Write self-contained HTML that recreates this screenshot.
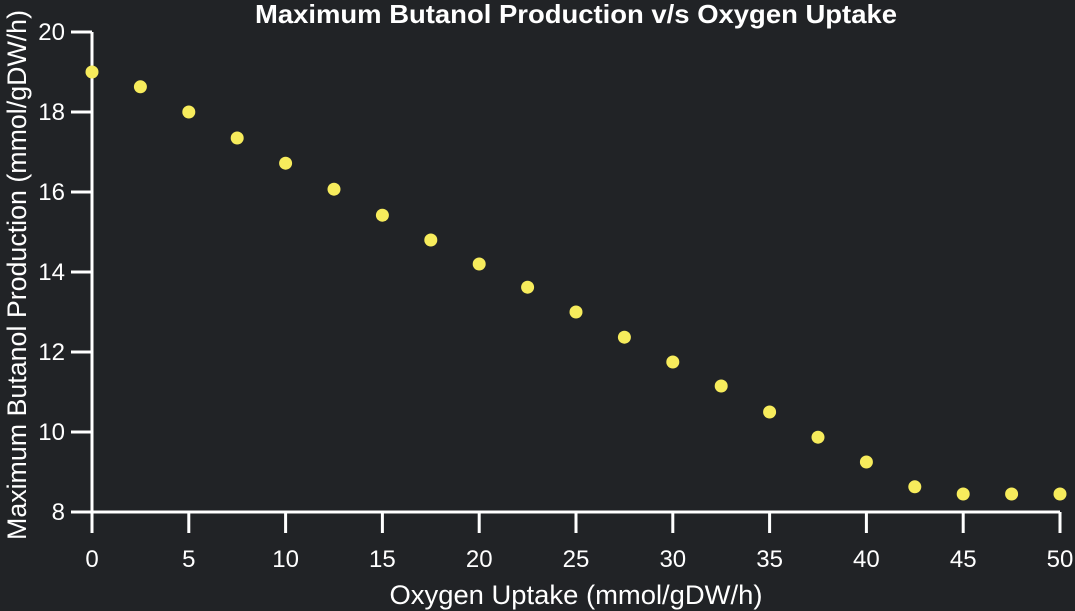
<!DOCTYPE html>
<html><head><meta charset="utf-8"><style>
body{margin:0;background:#212326;}
svg{display:block;font-family:"Liberation Sans",sans-serif;}
</style></head><body>
<svg width="1075" height="611">
<rect width="1075" height="611" fill="#212326"/>
<text x="576" y="23" fill="#fff" font-size="26" font-weight="bold" text-anchor="middle" textLength="642" lengthAdjust="spacingAndGlyphs">Maximum Butanol Production v/s Oxygen Uptake</text>
<text x="576" y="604" fill="#fff" font-size="27" text-anchor="middle" textLength="373" lengthAdjust="spacingAndGlyphs">Oxygen Uptake (mmol/gDW/h)</text>
<text transform="translate(26,275) rotate(-90)" fill="#fff" font-size="27" text-anchor="middle" textLength="530" lengthAdjust="spacingAndGlyphs">Maximum Butanol Production (mmol/gDW/h)</text>
<g id="axes"></g>
<g id="points"></g>
</svg>
<script>
const xVals=[0,2.5,5,7.5,10,12.5,15,17.5,20,22.5,25,27.5,30,32.5,35,37.5,40,42.5,45,47.5,50];
const yVals=[19.0,18.63,18.0,17.35,16.72,16.07,15.42,14.8,14.2,13.62,13.0,12.37,11.75,11.15,10.5,9.87,9.25,8.63,8.45,8.45,8.45];
const xTicks=[0,5,10,15,20,25,30,35,40,45,50];
const yTicks=[8,10,12,14,16,18,20];
const X=v=>92+v*(1060-92)/50;
const Y=v=>512-(v-8)*40;
const NS="http://www.w3.org/2000/svg";
const ax=document.getElementById('axes'),pts=document.getElementById('points');
function mk(tag,attrs,parent){const e=document.createElementNS(NS,tag);for(const k in attrs)e.setAttribute(k,attrs[k]);parent.appendChild(e);return e;}
let l=mk('line',{x1:92,y1:Y(20),x2:92,y2:533,stroke:'#fff','stroke-width':3},ax);


l=mk('line',{x1:71,y1:512,x2:1060,y2:512,stroke:'#fff','stroke-width':3},ax);


xTicks.forEach(t=>{
 const k=mk('line',{x1:X(t),y1:512,x2:X(t),y2:533,stroke:'#fff','stroke-width':3},ax);
 
 
 const tx=mk('text',{x:X(t),y:567,fill:'#fff','font-size':24,'text-anchor':'middle'},ax);
 tx.textContent=t;
 
 
});
yTicks.forEach(t=>{
 const k=mk('line',{x1:71,y1:Y(t),x2:92,y2:Y(t),stroke:'#fff','stroke-width':3},ax);
 
 
 const tx=mk('text',{x:65,y:Y(t)+8,fill:'#fff','font-size':24,'text-anchor':'end'},ax);
 tx.textContent=t;
 
 
});
xVals.forEach((x,i)=>{
 const c=mk('circle',{cx:X(x),cy:Y(yVals[i]),r:6.5,fill:'#f7ec5c'},pts);
 
 
});
</script>
</body></html>
